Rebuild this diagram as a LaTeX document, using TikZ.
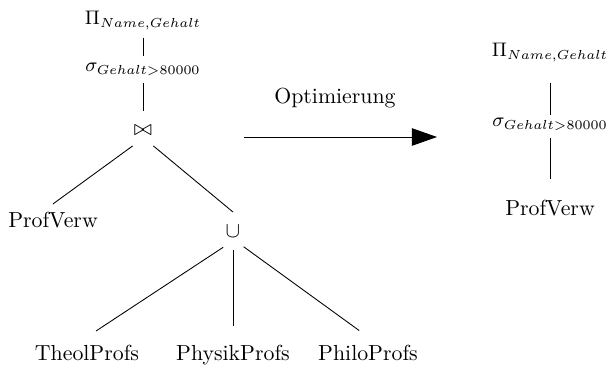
\documentclass[tikz,border=0pt]{standalone}
\usetikzlibrary{arrows.meta}
\tikzset{
    op/.style={circle, inner sep=0pt, minimum size=17pt},
    rel/.style={anchor=base},
    ausdruck/.style={rel, font=\fontsize{9.2}{11}\selectfont},
    leaf/.style={shorten >=5pt},
}
\begin{document}
\begin{tikzpicture}[x=0.4587pt, y=-0.4587pt]
    \useasboundingbox (0,0) rectangle (608,367);
    % Ausgangsbaum
    \node[ausdruck] (pi) at (143,25) {$\Pi_{Name,Gehalt}$};
    \node[ausdruck] (sel) at (143,72) {$\sigma_{Gehalt>80000}$};
    \node[op] (join) at (143,130) {$\bowtie$};
    \node[rel] (prof) at (53,227) {ProfVerw};
    \node[op] (union) at (233,231) {$\cup$};
    \node[rel] (theol) at (87,360) {TheolProfs};
    \node[rel] (physik) at (233,360) {PhysikProfs};
    \node[rel] (philo) at (368,360) {PhiloProfs};
    \draw (pi) -- (sel);
    \draw (sel) -- (join);
    \draw (join.-123) -- (prof.north);
    \draw (join.-57) -- (union.north);
    \begin{scope}[every path/.style={leaf}]
        \draw (union.-121) -- (theol.north);
        \draw (union.south) -- (physik.north);
        \draw (union.-56) -- (philo.north);
    \end{scope}
    % Optimierung
    \coordinate (from) at (244,137);
    \coordinate (to) at (437,137);
    \draw[-{Triangle[length=11.5pt, width=8pt]}] (from) -- (to);
    \node (opt) at (335,98) {Optimierung};
    % optimierter Baum
    \node[ausdruck] (pi2) at (550,57) {$\Pi_{Name,Gehalt}$};
    \node[ausdruck] (sel2) at (550,127) {$\sigma_{Gehalt>80000}$};
    \node[rel] (prof2) at (550,215) {ProfVerw};
    \draw[shorten <=6pt, shorten >=-2pt] (pi2) -- (sel2);
    \draw[shorten >=6pt] (sel2) -- (prof2);
\end{tikzpicture}
\end{document}
